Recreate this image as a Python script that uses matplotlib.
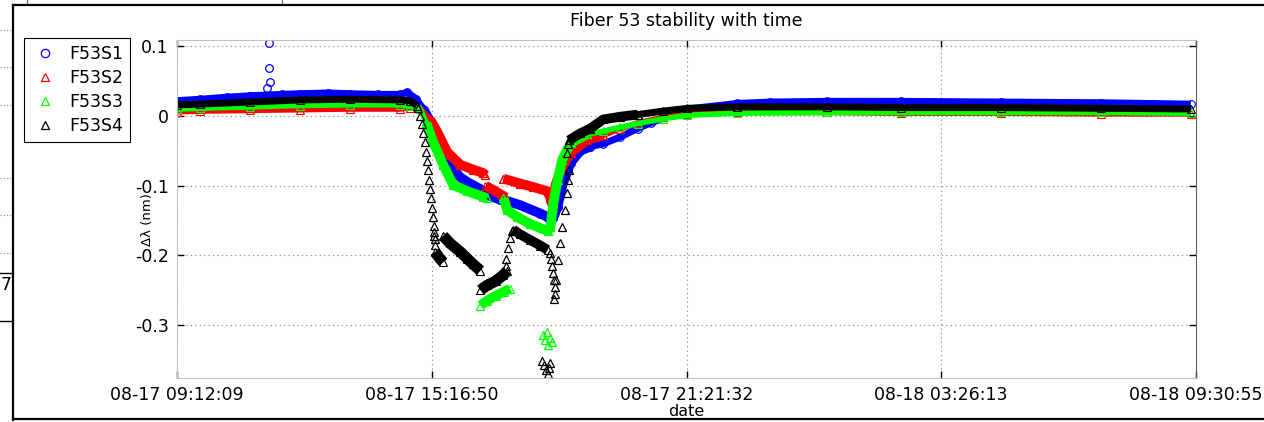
import datetime as dt
import numpy as np
import matplotlib
matplotlib.use("Agg")
import matplotlib.pyplot as plt
import matplotlib.dates as mdates
from matplotlib.lines import Line2D

plt.rcParams['font.family'] = ['DejaVu Sans']
FS = 12.5

# x tick labels (the axis runs from the first to the last one)
tick_labels = ['08-17 09:12:09', '08-17 15:16:50', '08-17 21:21:32',
               '08-18 03:26:13', '08-18 09:30:55']
y_ticks = [-0.3, -0.2, -0.1, 0, 0.1]
y_tick_labels = ['-0.3', '-0.2', '-0.1', '0', '0.1']

# data: hours since 08-17 09:12:09, delta lambda in nm
# F53S1 (blue)
s1_t = [0.00, 0.55, 1.20, 1.74, 2.50, 2.94, 3.60, 4.13, 4.80, 5.33, 5.49, 5.70,
        5.88, 6.04, 6.21, 6.35, 6.52, 6.76, 6.93, 7.24, 7.48, 7.71, 7.88, 8.19,
        8.43, 8.67, 8.84, 8.91, 8.98, 9.08, 9.19, 9.39, 9.62, 9.86, 10.17, 10.58,
        10.99, 11.30, 12.18, 13.37, 14.16, 15.50, 17.27, 19.66, 22.04, 24.19]
s1_v = [0.022, 0.024, 0.027, 0.029, 0.031, 0.032, 0.033, 0.032, 0.031, 0.031, 0.034, 0.025,
        0.010, -0.008, -0.030, -0.052, -0.072, -0.088, -0.095, -0.105, -0.115, -0.120, -0.122, -0.128,
        -0.134, -0.140, -0.145, -0.150, -0.146, -0.130, -0.100, -0.067, -0.050, -0.044, -0.040, -0.030,
        -0.018, -0.010, 0.010, 0.018, 0.020, 0.021, 0.021, 0.020, 0.019, 0.017]
s1_out_t = [2.20, 2.20, 2.22, 2.15]
s1_out_v = [0.105, 0.069, 0.049, 0.040]

# F53S2 (red)
s2a_t = [0.00, 0.55, 1.74, 2.94, 4.13, 5.33, 5.56, 5.80, 6.04, 6.21, 6.45, 6.76, 7.07, 7.31, 7.36]
s2a_v = [0.006, 0.007, 0.008, 0.009, 0.010, 0.010, 0.012, 0.011, -0.005, -0.023, -0.052, -0.070,
         -0.077, -0.082, -0.085]
s2b_t = [7.36, 7.60, 7.85]
s2b_v = [-0.100, -0.108, -0.117]
s2c_t = [7.79, 8.19, 8.50, 8.84, 8.91, 8.97, 9.03, 9.15, 9.39, 9.79, 10.17, 10.58, 10.99,
         11.60, 12.18, 13.37, 15.50, 17.27, 19.66, 22.04, 24.19]
s2c_v = [-0.090, -0.097, -0.102, -0.108, -0.118, -0.130, -0.100, -0.077, -0.053, -0.034, -0.028,
         -0.018, -0.010, -0.002, 0.003, 0.005, 0.005, 0.004, 0.004, 0.003, 0.003]

# F53S3 (green)
s3a_t = [0.00, 0.55, 1.74, 2.94, 4.13, 5.33, 5.56, 5.80, 5.95, 6.11, 6.35, 6.59, 6.93, 7.31, 7.40]
s3a_v = [0.010, 0.011, 0.013, 0.015, 0.016, 0.016, 0.014, 0.010, -0.010, -0.037, -0.070, -0.099,
         -0.108, -0.116, -0.118]
s3b_t = [7.79, 7.88, 8.12, 8.43, 8.84, 8.91, 8.98, 9.08, 9.19, 9.39, 9.79, 10.17, 10.58, 10.99,
         11.60, 12.18, 13.37, 15.50, 17.27, 19.66, 22.04, 24.19]
s3b_v = [-0.118, -0.135, -0.145, -0.155, -0.165, -0.160, -0.125, -0.092, -0.063, -0.039, -0.026,
         -0.022, -0.016, -0.011, -0.004, 0.001, 0.004, 0.005, 0.005, 0.005, 0.005, 0.004]
s3low_t = [7.24, 7.40, 7.60, 7.80, 7.95]
s3low_v = [-0.272, -0.265, -0.258, -0.252, -0.248]
s3out_t = [8.74, 8.78, 8.82, 8.86, 8.90, 8.94]
s3out_v = [-0.315, -0.322, -0.310, -0.328, -0.318, -0.325]

# F53S4 (black)
s4a_t = [0.00, 0.55, 1.74, 2.94, 4.13, 5.33, 5.56, 5.72]
s4a_v = [0.016, 0.017, 0.020, 0.023, 0.024, 0.023, 0.022, 0.015]
s4drop1_t = [5.76, 5.80, 5.84, 5.88, 5.92, 5.95, 5.97, 5.99, 6.02, 6.04, 6.06, 6.08, 6.10,
             6.12, 6.14, 6.16, 6.15, 6.13]
s4drop1_v = [0.012, 0.000, -0.012, -0.025, -0.038, -0.052, -0.065, -0.078, -0.092, -0.105,
             -0.118, -0.132, -0.145, -0.158, -0.172, -0.185, -0.176, -0.166]
s4c1_t = [6.16, 6.25, 6.35]
s4c1_v = [-0.195, -0.203, -0.210]
s4c2_t = [6.35, 6.52, 6.76, 6.93, 7.07, 7.24]
s4c2_v = [-0.172, -0.183, -0.195, -0.205, -0.213, -0.222]
s4c3_t = [7.24, 7.40, 7.60, 7.79, 7.88]
s4c3_v = [-0.250, -0.243, -0.237, -0.228, -0.222]
s4rise1_t = [7.84, 7.86, 7.90, 7.95, 8.00]
s4rise1_v = [-0.215, -0.205, -0.190, -0.175, -0.165]
s4c4_t = [8.02, 8.19, 8.43, 8.67, 8.84]
s4c4_v = [-0.163, -0.170, -0.178, -0.186, -0.192]
s4drop2_t = [8.91, 8.93, 8.95, 8.97, 8.99, 9.01, 9.02, 9.00]
s4drop2_v = [-0.196, -0.205, -0.215, -0.225, -0.235, -0.245, -0.255, -0.262]
s4out_t = [8.70, 8.76, 8.80, 8.84, 8.88, 8.91]
s4out_v = [-0.352, -0.358, -0.365, -0.370, -0.362, -0.355]
s4rise2_t = [9.05, 9.10, 9.15, 9.19, 9.25, 9.30, 9.33, 9.36, 9.31, 9.33]
s4rise2_v = [-0.235, -0.206, -0.182, -0.159, -0.135, -0.110, -0.092, -0.077, -0.053, -0.040]
s4b_t = [9.35, 9.62, 9.86, 10.17, 10.58, 10.99, 11.60, 12.18, 13.37, 15.50, 17.27, 19.66,
         22.04, 24.19]
s4b_v = [-0.035, -0.025, -0.018, -0.005, -0.001, 0.002, 0.007, 0.011, 0.013, 0.013, 0.012,
         0.012, 0.011, 0.010]

tick_dates = [dt.datetime.strptime('2014-' + s, '%Y-%m-%d %H:%M:%S') for s in tick_labels]
t0 = mdates.date2num(tick_dates[0])


def tx(hours):
    return t0 + np.asarray(hours) / 24.0


def band(ax, t, v, color, marker, lw=5):
    # dense scatter drawn as a thick strip with open markers on top
    ax.plot(tx(t), v, '-', color=color, lw=lw, solid_capstyle='butt', solid_joinstyle='round')
    ax.plot(tx(t), v, linestyle='none', marker=marker, ms=5.5, mfc='none', mec=color, mew=0.8)


def pts(ax, t, v, color, marker):
    ax.plot(tx(t), v, linestyle='none', marker=marker, ms=5.5, mfc='none', mec=color, mew=0.9)


blue, red, green, black = '#0000ff', '#ff0000', '#00ff00', '#000000'

fig = plt.figure(figsize=(12.64, 4.22), dpi=100)
ax = fig.add_axes([177 / 1264, 1 - 378 / 422, 1019 / 1264, 338 / 422])

# the scatter is wider during the dip, so those parts get a thicker strip
band(ax, s1_t, s1_v, blue, 'o', lw=5)
band(ax, s1_t[12:34], s1_v[12:34], blue, 'o', lw=7)
pts(ax, s1_out_t, s1_out_v, blue, 'o')

band(ax, s2a_t, s2a_v, red, '^', lw=4)
band(ax, s2a_t[8:], s2a_v[8:], red, '^', lw=7)
band(ax, s2b_t, s2b_v, red, '^', lw=7)
band(ax, s2c_t, s2c_v, red, '^', lw=4)
band(ax, s2c_t[:11], s2c_v[:11], red, '^', lw=7)

band(ax, s3a_t, s3a_v, green, '^', lw=4)
band(ax, s3a_t[8:], s3a_v[8:], green, '^', lw=7)
band(ax, s3b_t, s3b_v, green, '^', lw=4)
band(ax, s3b_t[:11], s3b_v[:11], green, '^', lw=7)
band(ax, s3low_t, s3low_v, green, '^', lw=7)
pts(ax, s3out_t, s3out_v, green, '^')

band(ax, s4a_t, s4a_v, black, '^', lw=5)
pts(ax, s4drop1_t, s4drop1_v, black, '^')
band(ax, s4c1_t, s4c1_v, black, '^', lw=8)
band(ax, s4c2_t, s4c2_v, black, '^', lw=8)
band(ax, s4c3_t, s4c3_v, black, '^', lw=8)
pts(ax, s4rise1_t, s4rise1_v, black, '^')
band(ax, s4c4_t, s4c4_v, black, '^', lw=7)
pts(ax, s4drop2_t, s4drop2_v, black, '^')
pts(ax, s4out_t, s4out_v, black, '^')
pts(ax, s4rise2_t, s4rise2_v, black, '^')
band(ax, s4b_t, s4b_v, black, '^', lw=5)
band(ax, s4b_t[:6], s4b_v[:6], black, '^', lw=7)

ax.set_xlim(mdates.date2num(tick_dates[0]), mdates.date2num(tick_dates[-1]))
ax.set_ylim(-0.376, 0.109)
ax.set_xticks(mdates.date2num(tick_dates))
ax.xaxis.set_major_formatter(mdates.DateFormatter('%m-%d %H:%M:%S'))
ax.set_yticks(y_ticks)
ax.set_yticklabels(y_tick_labels)
ax.tick_params(direction='in', length=5, width=1, labelsize=FS, top=True, right=True, pad=6)
ax.grid(True, linestyle=(0, (1, 3)), color='#808080', lw=0.8)
for side in ['top', 'left', 'bottom']:
    ax.spines[side].set_color('#c0c0c0')
ax.spines['right'].set_color('#606060')

ax.set_title('Fiber 53 stability with time', fontsize=FS, pad=10)
ax.set_xlabel('date', fontsize=11.5, va='top')
ax.xaxis.set_label_coords(0.5, -0.078)
ax.set_ylabel('Δλ (nm)', fontsize=9.5, va='center')
ax.yaxis.set_label_coords(-0.029, 0.468)

handles = [Line2D([], [], linestyle='none', marker=m, ms=6, mfc='none', mec=c, mew=0.9)
           for m, c in [('o', blue), ('^', red), ('^', green), ('^', black)]]
leg = fig.legend(handles, ['F53S1', 'F53S2', 'F53S3', 'F53S4'], loc='upper left',
                 bbox_to_anchor=(24 / 1264, 1 - 38 / 422), fontsize=FS, fancybox=False,
                 edgecolor='black', framealpha=1, borderpad=0.4, labelspacing=0.35,
                 handlelength=1.6, handletextpad=0.6, borderaxespad=0)
leg.get_frame().set_linewidth(0.8)

# frame of the screenshot and leftovers from the figure beside it
W, H = 1264, 422
def fx(x): return x / W
def fy(y): return 1 - y / H
fig.add_artist(Line2D([fx(13), 1.0], [fy(5), fy(5)], color='black', lw=1.6))
fig.add_artist(Line2D([fx(13), fx(13)], [fy(5), fy(420)], color='black', lw=1.6))
fig.add_artist(Line2D([fx(13), 1.0], [fy(419), fy(419)], color='black', lw=1.6))
for yy in [30, 67, 105, 178, 215, 253]:
    fig.add_artist(Line2D([0, fx(12)], [fy(yy), fy(yy)], color='#808080', lw=0.8,
                          linestyle=(0, (1, 2))))
for yy in [273, 321]:
    fig.add_artist(Line2D([0, fx(13)], [fy(yy), fy(yy)], color='black', lw=1.0))
for xx in [27, 282]:
    fig.add_artist(Line2D([fx(xx), fx(xx)], [1.0, fy(3)], color='#606060', lw=0.8))
fig.text(fx(1), fy(285), '7', fontsize=FS, va='center', ha='left')

fig.savefig('out.png', dpi=100)
